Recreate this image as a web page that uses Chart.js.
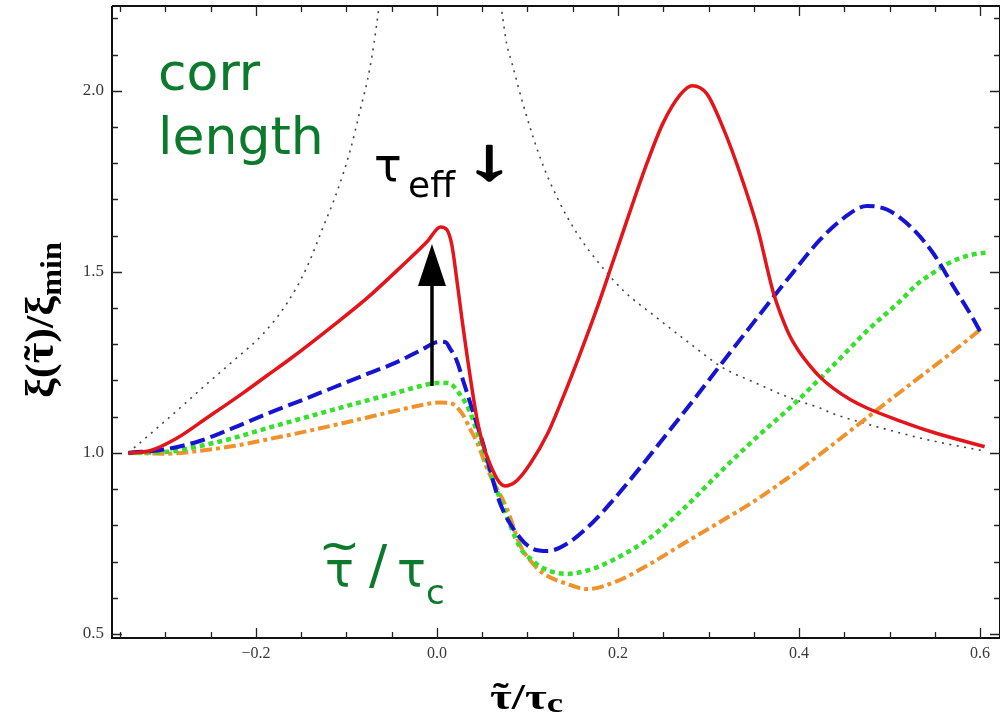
<!DOCTYPE html>
<html>
<head>
<meta charset="utf-8">
<title>Correlation length through the transition</title>
<script src="https://cdn.jsdelivr.net/npm/chart.js@4.4.1/dist/chart.umd.min.js"></script>
<style>
  html, body { margin: 0; padding: 0; background: #ffffff; }
  #wrap { width: 1000px; height: 723px; }
</style>
</head>
<body>
<div id="wrap"><canvas id="c" width="1000" height="723"></canvas></div>
<script>
// ---- values: reduced time τ̃/τc and ξ(τ̃)/ξmin for each quench ----
const redX = [-0.341,-0.317,-0.287,-0.254,-0.214,-0.188,-0.162,-0.115,-0.077,-0.041,-0.011,0.004,0.011,0.0166,0.0221,0.0276,0.0331,0.0387,0.0442,0.0497,0.0564,0.0641,0.0696,0.0751,0.088,0.103,0.122,0.139,0.158,0.177,0.194,0.213,0.232,0.250,0.269,0.282,0.298,0.316,0.335,0.354,0.371,0.381,0.390,0.400,0.409,0.423,0.438,0.456,0.475,0.512,0.548,0.605];
const redY = [1.000,1.006,1.041,1.097,1.166,1.213,1.260,1.351,1.428,1.511,1.583,1.624,1.616,1.572,1.475,1.370,1.271,1.177,1.094,1.033,0.983,0.939,0.917,0.909,0.923,0.970,1.052,1.152,1.273,1.401,1.525,1.665,1.800,1.912,1.990,2.014,1.992,1.898,1.771,1.622,1.448,1.375,1.322,1.280,1.250,1.210,1.178,1.148,1.124,1.088,1.057,1.017];

const blueX = [-0.341,-0.298,-0.262,-0.225,-0.188,-0.151,-0.115,-0.077,-0.045,-0.019,0.003,0.010,0.014,0.022,0.029,0.036,0.044,0.051,0.059,0.070,0.092,0.106,0.122,0.144,0.172,0.194,0.224,0.243,0.280,0.316,0.354,0.390,0.423,0.450,0.475,0.497,0.523,0.548,0.570,0.592,0.603];
const blueY = [1.000,1.011,1.033,1.069,1.108,1.144,1.180,1.218,1.250,1.282,1.307,1.305,1.290,1.254,1.199,1.144,1.080,1.025,0.950,0.859,0.765,0.735,0.729,0.750,0.808,0.868,0.958,1.018,1.135,1.252,1.374,1.488,1.588,1.650,1.682,1.672,1.625,1.552,1.462,1.372,1.322];

const greenX = [-0.341,-0.298,-0.262,-0.225,-0.188,-0.151,-0.115,-0.077,-0.041,-0.019,0.000,0.012,0.025,0.036,0.044,0.051,0.061,0.072,0.092,0.106,0.117,0.144,0.172,0.199,0.235,0.272,0.312,0.354,0.390,0.423,0.445,0.475,0.512,0.530,0.548,0.563,0.578,0.592,0.606];
const greenY = [1.000,1.003,1.019,1.041,1.068,1.094,1.119,1.145,1.169,1.184,1.193,1.193,1.163,1.116,1.061,1.006,0.931,0.859,0.738,0.702,0.682,0.666,0.680,0.710,0.765,0.845,0.945,1.045,1.125,1.205,1.260,1.337,1.420,1.465,1.497,1.521,1.538,1.548,1.553];

const orangeX = [-0.341,-0.298,-0.262,-0.225,-0.188,-0.151,-0.115,-0.077,-0.041,-0.019,0.003,0.014,0.028,0.036,0.045,0.055,0.066,0.077,0.092,0.104,0.117,0.144,0.166,0.199,0.235,0.272,0.309,0.350,0.386,0.421,0.456,0.493,0.530,0.564,0.600];
const orangeY = [1.000,0.998,1.006,1.019,1.037,1.056,1.076,1.098,1.119,1.131,1.139,1.138,1.108,1.069,1.025,0.959,0.903,0.848,0.745,0.700,0.668,0.638,0.624,0.646,0.693,0.749,0.804,0.866,0.928,0.992,1.060,1.132,1.203,1.268,1.340];

// equilibrium correlation length, either side of the critical point
const critLeftX = [-0.341,-0.336,-0.309,-0.284,-0.254,-0.225,-0.192,-0.166,-0.144,-0.126,-0.110,-0.096,-0.085,-0.074,-0.065,-0.061];
const critLeftY = [1.000,1.011,1.069,1.124,1.191,1.254,1.329,1.412,1.511,1.622,1.724,1.834,1.945,2.064,2.213,2.300];
const critRightX = [0.067,0.072,0.077,0.083,0.095,0.114,0.133,0.155,0.177,0.206,0.243,0.280,0.316,0.354,0.390,0.423,0.438,0.475,0.512,0.548,0.603];
const critRightY = [2.300,2.213,2.130,2.075,1.964,1.815,1.704,1.605,1.530,1.448,1.373,1.301,1.235,1.191,1.152,1.124,1.108,1.080,1.055,1.033,1.006];

// axis ticks and ranges
const xTicks = [-0.2, 0.0, 0.2, 0.4, 0.6];
const yTicks = [0.5, 1.0, 1.5, 2.0];
const xMinorStep = 0.05, yMinorStep = 0.1;
const xRange = [-0.359, 0.622];
const yRange = [0.489, 2.234];

// arrow showing ξ growing as τ_eff decreases
const arrowX = -0.0055, arrowFrom = 1.185, arrowTo = 1.577;

const pts = (xs, ys) => xs.map((x, i) => ({ x: x, y: ys[i] }));
const fmt = v => (Math.abs(v) < 1e-9 ? 0 : v).toFixed(1).replace('-', '\u2212');

const SERIF = "'Liberation Serif', 'Times New Roman', serif";
const SANS = "'DejaVu Sans', 'Verdana', sans-serif";

// draws a run of [text, font, baselineShift] pieces, stretched to a given width
function drawRun(ctx, pieces, x0, base, width, tildeOn) {
  let natural = 0;
  pieces.forEach(p => { ctx.font = p[1]; natural += ctx.measureText(p[0]).width; });
  const k = width / natural;
  ctx.save();
  ctx.translate(x0, base);
  ctx.scale(k, 1);
  let cx = 0;
  pieces.forEach((p, i) => {
    ctx.font = p[1];
    ctx.textAlign = 'left';
    ctx.fillText(p[0], cx, p[2]);
    const w = ctx.measureText(p[0]).width;
    if (tildeOn.includes(i)) {
      ctx.textAlign = 'center';
      ctx.fillText('\u02DC', cx + w / 2, p[2] - 1);
    }
    cx += w;
  });
  ctx.restore();
}

const framePlugin = {
  id: 'frameAndNotes',
  afterDraw(chart) {
    const { ctx, chartArea: a, scales: { x, y } } = chart;
    ctx.save();

    // frame
    ctx.strokeStyle = '#111';
    ctx.lineWidth = 2;
    ctx.beginPath();
    ctx.moveTo(a.left, a.top); ctx.lineTo(a.left, a.bottom); ctx.lineTo(a.right, a.bottom);
    ctx.moveTo(a.left, a.top); ctx.lineTo(a.right, a.top); ctx.lineTo(a.right, a.bottom);
    ctx.stroke();

    // ticks pointing inward on all four sides
    ctx.lineWidth = 1.3;
    ctx.strokeStyle = '#222';
    const isMajor = (v, list) => list.some(t => Math.abs(t - v) < 1e-6);
    ctx.beginPath();
    for (let k = Math.ceil(xRange[0] / xMinorStep - 1e-6); k * xMinorStep <= xRange[1] + 1e-6; k++) {
      const v = k * xMinorStep;
      const len = isMajor(v, xTicks) ? 10 : 6;
      const px = Math.round(x.getPixelForValue(v)) + 0.5;
      ctx.moveTo(px, a.bottom); ctx.lineTo(px, a.bottom - len);
      ctx.moveTo(px, a.top); ctx.lineTo(px, a.top + len);
    }
    for (let k = Math.ceil(yRange[0] / yMinorStep - 1e-6); k * yMinorStep <= yRange[1] + 1e-6; k++) {
      const v = k * yMinorStep;
      const len = isMajor(v, yTicks) ? 10 : 6;
      const py = Math.round(y.getPixelForValue(v)) + 0.5;
      ctx.moveTo(a.left, py); ctx.lineTo(a.left + len, py);
      ctx.moveTo(a.right, py); ctx.lineTo(a.right - len, py);
    }
    ctx.stroke();

    // vertical arrow
    const ax = x.getPixelForValue(arrowX);
    const y0 = y.getPixelForValue(arrowFrom);
    const y1 = y.getPixelForValue(arrowTo);
    const headLen = 42, headHalf = 14;
    ctx.strokeStyle = '#000';
    ctx.fillStyle = '#000';
    ctx.lineWidth = 3.5;
    ctx.beginPath();
    ctx.moveTo(ax, y0); ctx.lineTo(ax, y1 + headLen - 2);
    ctx.stroke();
    ctx.beginPath();
    ctx.moveTo(ax, y1); ctx.lineTo(ax - headHalf, y1 + headLen); ctx.lineTo(ax + headHalf, y1 + headLen);
    ctx.closePath();
    ctx.fill();

    ctx.textAlign = 'left';
    ctx.textBaseline = 'alphabetic';

    // green notes
    ctx.fillStyle = '#0c7a2c';
    ctx.font = '52px ' + SANS;
    ctx.fillText('corr', 158, 90);
    ctx.fillText('length', 158, 154);

    ctx.font = '48px ' + SANS;
    ctx.fillText('\u03C4', 325, 586);
    const tw = ctx.measureText('\u03C4').width;
    ctx.textAlign = 'center';
    ctx.font = '50px ' + SANS;
    ctx.fillText('~', 325 + tw / 2, 562);
    ctx.textAlign = 'left';
    ctx.font = '54px ' + SANS;
    ctx.fillText('/', 369, 583);
    ctx.font = '48px ' + SANS;
    ctx.fillText('\u03C4', 397, 586);
    ctx.font = '34px ' + SANS;
    ctx.fillText('c', 426, 604);

    // τ_eff ↓
    ctx.fillStyle = '#000';
    ctx.strokeStyle = '#000';
    ctx.font = '46px ' + SANS;
    ctx.fillText('\u03C4', 374, 181);
    ctx.font = '36px ' + SANS;
    ctx.fillText('eff', 408, 197);
    ctx.save();
    ctx.translate(489, 179);
    ctx.scale(1.65, 1);
    ctx.font = "bold 60px 'Liberation Sans', Arial, sans-serif";
    ctx.textAlign = 'center';
    ctx.lineWidth = 1.6;
    ctx.lineJoin = 'round';
    ctx.fillText('\u2193', 0, 0);
    ctx.strokeText('\u2193', 0, 0);
    ctx.restore();

    // x-axis title τ̃/τc
    ctx.fillStyle = '#000';
    drawRun(ctx, [
      ['\u03C4', 'bold 36px ' + SERIF, 0],
      ['/\u03C4', 'bold 36px ' + SERIF, 0],
      ['c', 'bold 28px ' + SERIF, 3]
    ], 490, 709, 73, [0]);

    // y-axis title ξ(τ̃)/ξmin
    ctx.save();
    ctx.translate(53, 398);
    ctx.rotate(-Math.PI / 2);
    drawRun(ctx, [
      ['\u03BE(', 'bold 40px ' + SERIF, 0],
      ['\u03C4', 'bold 40px ' + SERIF, 0],
      [')/\u03BE', 'bold 40px ' + SERIF, 0],
      ['min', 'bold 29px ' + SERIF, 8]
    ], 0, 0, 156, [1]);
    ctx.restore();

    ctx.restore();
  }
};

const line = (data, color, width, dash) => ({
  data: data,
  borderColor: color,
  borderWidth: width,
  borderDash: dash,
  fill: false,
  pointRadius: 0,
  cubicInterpolationMode: 'monotone'
});

new Chart(document.getElementById('c'), {
  type: 'line',
  data: {
    datasets: [
      line(pts(redX, redY), '#e3151b', 3.5, []),
      line(pts(blueX, blueY), '#1414d2', 4, [15, 6]),
      line(pts(greenX, greenY), '#36e02c', 4.5, [5, 4]),
      line(pts(orangeX, orangeY), '#f0922c', 4, [12, 4, 4, 4]),
      line(pts(critLeftX, critLeftY), '#444444', 1.6, [2, 5.5]),
      line(pts(critRightX, critRightY), '#444444', 1.6, [2, 5.5])
    ]
  },
  options: {
    responsive: false,
    animation: false,
    devicePixelRatio: 1,
    layout: { padding: { top: 6, right: 0, bottom: 0, left: 0 } },
    plugins: { legend: { display: false }, tooltip: { enabled: false } },
    elements: { line: { borderCapStyle: 'butt', borderJoinStyle: 'round' } },
    scales: {
      x: {
        type: 'linear',
        min: xRange[0],
        max: xRange[1],
        grid: { display: false, drawTicks: false },
        border: { display: false },
        afterBuildTicks: s => { s.ticks = xTicks.map(v => ({ value: v })); },
        afterFit: s => { s.height = 85; s.paddingLeft = 0; s.paddingRight = 0; },
        ticks: {
          padding: 6, autoSkip: false, maxRotation: 0,
          color: '#383838',
          font: { family: SERIF, size: 16 },
          callback: v => fmt(v)
        }
      },
      y: {
        type: 'linear',
        min: yRange[0],
        max: yRange[1],
        grid: { display: false, drawTicks: false },
        border: { display: false },
        afterBuildTicks: s => { s.ticks = yTicks.map(v => ({ value: v })); },
        afterFit: s => { s.width = 112; s.paddingTop = 0; s.paddingBottom = 0; },
        ticks: {
          padding: 8, autoSkip: false,
          color: '#383838',
          font: { family: SERIF, size: 17 },
          callback: v => fmt(v)
        }
      }
    }
  },
  plugins: [framePlugin]
});
</script>
</body>
</html>
